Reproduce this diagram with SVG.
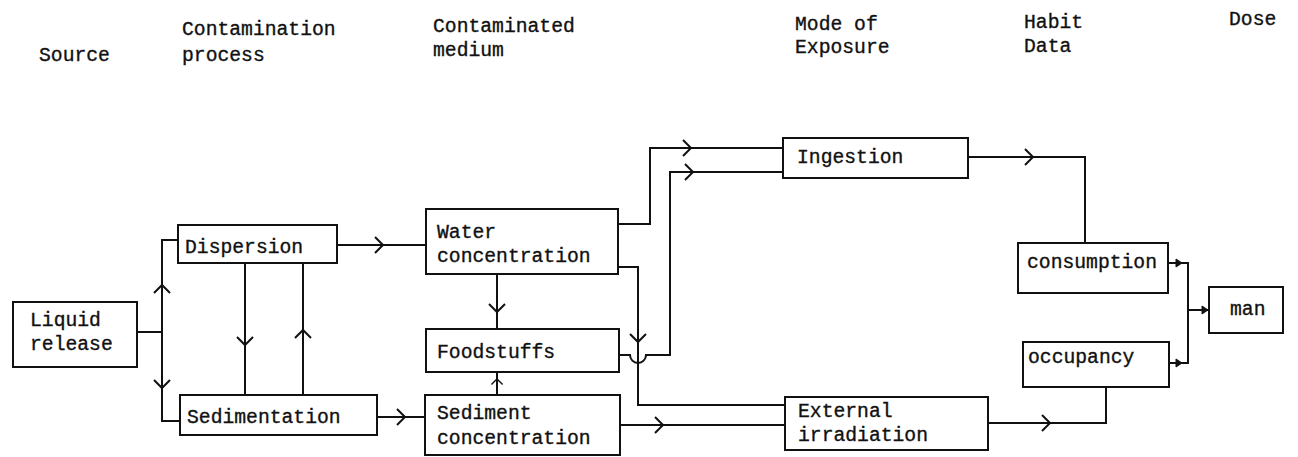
<svg xmlns="http://www.w3.org/2000/svg" xmlns:xlink="http://www.w3.org/1999/xlink" width="1298" height="457" viewBox="0 0 1298 457">
<style>
text{font-family:"Liberation Mono","DejaVu Sans Mono",monospace;font-size:19.7px;fill:#111;stroke:#111;stroke-width:0.35}
.box{fill:#fff;stroke:#111;stroke-width:2}
.ln{fill:none;stroke:#111;stroke-width:2;stroke-linejoin:miter}
.chev{fill:none;stroke:#111;stroke-width:2}
.tri{fill:#111;stroke:#111;stroke-width:1}
</style>
<defs>
<path id="chev" d="M-8,-8 L0,0 L-8,8"/>
<path id="tri" d="M-6,-4 L0,0 L-6,4 Z"/>
</defs>
<rect width="1298" height="457" fill="#fff"/>
<g id="headers">
<text x="39" y="61">Source</text>
<text x="182" y="35">Contamination</text>
<text x="182" y="61">process</text>
<text x="433" y="32">Contaminated</text>
<text x="433" y="56">medium</text>
<text x="795" y="30">Mode of</text>
<text x="795" y="53">Exposure</text>
<text x="1024" y="28">Habit</text>
<text x="1024" y="52">Data</text>
<text x="1229" y="25">Dose</text>
</g>
<g id="connectors">
<path class="ln" d="M137,332 H162"/>
<path class="ln" d="M178,240 H162 V421 H180"/>
<use class="chev" xlink:href="#chev" transform="translate(162,285) rotate(-90)"/>
<use class="chev" xlink:href="#chev" transform="translate(162,388) rotate(90)"/>
<path class="ln" d="M245,263 V395"/>
<use class="chev" xlink:href="#chev" transform="translate(245,345) rotate(90)"/>
<path class="ln" d="M303,395 V263"/>
<use class="chev" xlink:href="#chev" transform="translate(303,330) rotate(-90)"/>
<path class="ln" d="M337,245 H426"/>
<use class="chev" xlink:href="#chev" transform="translate(383,245)"/>
<path class="ln" d="M377,417 H425"/>
<use class="chev" xlink:href="#chev" transform="translate(405,417)"/>
<path class="ln" d="M497,274 V329"/>
<use class="chev" xlink:href="#chev" transform="translate(497,312) rotate(90)"/>
<path class="ln" d="M497,395 V372"/>
<use class="chev" xlink:href="#chev" transform="translate(497,379) rotate(-90) scale(0.7)"/>
<path class="ln" d="M618,224 H650 V148 H783"/>
<use class="chev" xlink:href="#chev" transform="translate(691,148)"/>
<path class="ln" d="M618,267 H638 V405 H785"/>
<use class="chev" xlink:href="#chev" transform="translate(638,342) rotate(90)"/>
<path class="ln" d="M619,355 H630 A8,8 0 0 0 646,355 H670 V172 H783"/>
<use class="chev" xlink:href="#chev" transform="translate(693,172)"/>
<path class="ln" d="M620,425 H785"/>
<use class="chev" xlink:href="#chev" transform="translate(663,425)"/>
<path class="ln" d="M968,157 H1085 V243"/>
<use class="chev" xlink:href="#chev" transform="translate(1033,157)"/>
<path class="ln" d="M988,423 H1106 V387"/>
<use class="chev" xlink:href="#chev" transform="translate(1050,423)"/>
<path class="ln" d="M1168,263 H1188 V363 H1169"/>
<path class="ln" d="M1188,310 H1209"/>
<use class="tri" xlink:href="#tri" transform="translate(1182,263)"/>
<use class="tri" xlink:href="#tri" transform="translate(1182,363)"/>
<use class="tri" xlink:href="#tri" transform="translate(1208,310)"/>
</g>
<g id="liquid-release"><rect class="box" x="13" y="302" width="124" height="65"/><text x="30" y="326">Liquid</text><text x="30" y="350">release</text></g>
<g id="dispersion"><rect class="box" x="178" y="225" width="159" height="38"/><text x="185" y="253">Dispersion</text></g>
<g id="sedimentation"><rect class="box" x="180" y="395" width="197" height="40"/><text x="187" y="423">Sedimentation</text></g>
<g id="water-concentration"><rect class="box" x="426" y="209" width="192" height="65"/><text x="437" y="238">Water</text><text x="437" y="262">concentration</text></g>
<g id="foodstuffs"><rect class="box" x="426" y="329" width="193" height="43"/><text x="437" y="358">Foodstuffs</text></g>
<g id="sediment-concentration"><rect class="box" x="425" y="395" width="195" height="60"/><text x="437" y="419">Sediment</text><text x="437" y="444">concentration</text></g>
<g id="ingestion"><rect class="box" x="783" y="138" width="185" height="40"/><text x="797" y="163">Ingestion</text></g>
<g id="external-irradiation"><rect class="box" x="785" y="397" width="203" height="53"/><text x="798" y="417">External</text><text x="798" y="441">irradiation</text></g>
<g id="consumption"><rect class="box" x="1018" y="243" width="150" height="50"/><text x="1027" y="268">consumption</text></g>
<g id="occupancy"><rect class="box" x="1023" y="342" width="146" height="45"/><text x="1028" y="363">occupancy</text></g>
<g id="man"><rect class="box" x="1209" y="287" width="74" height="46"/><text x="1230" y="315">man</text></g>
</svg>
